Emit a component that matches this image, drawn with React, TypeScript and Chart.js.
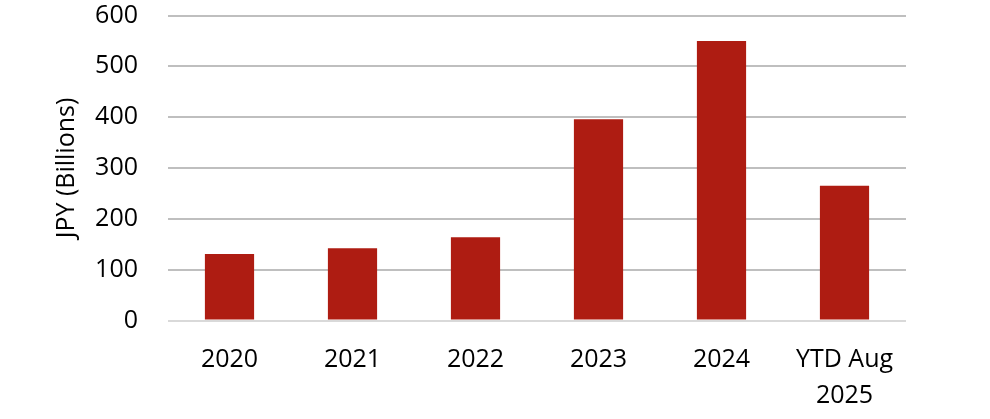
import React, { useEffect, useRef } from "react";
import { Chart, registerables } from "chart.js";

Chart.register(...registerables);

const categories: (string | string[])[] = ["2020", "2021", "2022", "2023", "2024", ["YTD Aug", "2025"]];
const values: number[] = [131, 142, 164, 396, 550, 265];
const yTitle = "JPY (Billions)";
const yMin = 0;
const yMax = 600;
const yStep = 100;

const FONT = "'Open Sans', 'Noto Sans', sans-serif";

export default function App() {
  const ref = useRef<HTMLCanvasElement | null>(null);
  useEffect(() => {
    if (!ref.current) return;
    const chart = new Chart(ref.current, {
      type: "bar",
      data: {
        labels: categories,
        datasets: [
          {
            data: values,
            backgroundColor: "#AE1C12",
            borderWidth: 0,
            categoryPercentage: 1,
            barPercentage: 0.4,
          },
        ],
      },
      options: {
        animation: false,
        responsive: true,
        maintainAspectRatio: false,
        layout: { padding: { top: 15.5, right: 84, left: 0, bottom: 0 } },
        plugins: { legend: { display: false }, tooltip: { enabled: false } },
        scales: {
          x: {
            afterFit: (s: any) => {
              s.height = 98.5;
            },
            grid: { display: false, drawTicks: false },
            border: { display: false },
            ticks: {
              color: "#000",
              font: { family: FONT, size: 25, lineHeight: 1.44 },
              padding: 21.5,
              maxRotation: 0,
              autoSkip: false,
            },
          },
          y: {
            min: yMin,
            max: yMax,
            afterFit: (s: any) => {
              s.width = 168;
              s.paddingTop = 0;
              s.paddingBottom = 0;
            },
            grid: {
              color: (ctx: any) => (ctx.tick && ctx.tick.value === 0 ? "#d9d9d9" : "#bfbfbf"),
              lineWidth: 2,
              drawTicks: false,
            },
            border: { display: false },
            ticks: {
              stepSize: yStep,
              color: "#000",
              font: { family: FONT, size: 25 },
              padding: 30,
            },
            title: {
              display: true,
              text: yTitle,
              color: "#000",
              font: { family: FONT, size: 25 },
              padding: { top: 52, bottom: 0 },
            },
          },
        },
      },
    });
    return () => chart.destroy();
  }, []);
  return (
    <div style={{ position: "absolute", left: 0, top: 0, width: 990, height: 419, background: "#fff" }}>
      <canvas ref={ref} />
    </div>
  );
}
